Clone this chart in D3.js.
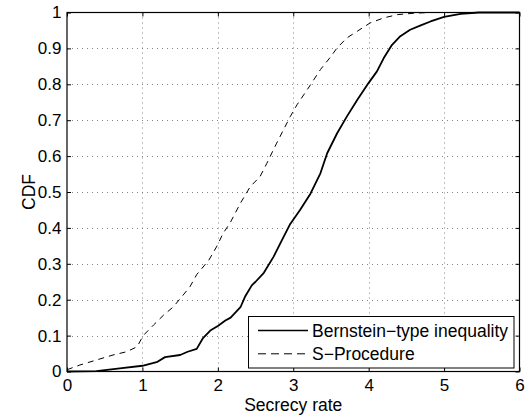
<!DOCTYPE html>
<html><head><meta charset="utf-8">
<script src="https://cdn.jsdelivr.net/npm/d3@7"></script>
<style>body{margin:0;background:#fff}svg{display:block}text{font-family:"Liberation Sans",Arial,sans-serif;fill:#000}</style>
</head><body><svg id="c" width="527" height="415"></svg>
<script>
const xTicks = [0,1,2,3,4,5,6];
const yTicks = [0,0.1,0.2,0.3,0.4,0.5,0.6,0.7,0.8,0.9,1];
const seriesNames = ["Bernstein\u2212type inequality","S\u2212Procedure"];
const bernsteinX = [0,0.39,0.7,1.0,1.2,1.3,1.5,1.6,1.72,1.8,1.9,2.0,2.1,2.17,2.3,2.36,2.45,2.5,2.61,2.74,2.85,2.96,3.09,3.23,3.36,3.45,3.58,3.71,3.85,4.0,4.11,4.2,4.31,4.42,4.55,4.69,4.82,5.0,5.22,5.46,6.0];
const bernsteinY = [0,0.001,0.009,0.016,0.027,0.04,0.046,0.055,0.063,0.092,0.114,0.127,0.142,0.15,0.179,0.208,0.24,0.25,0.275,0.32,0.366,0.411,0.45,0.496,0.552,0.608,0.663,0.71,0.757,0.804,0.836,0.873,0.91,0.934,0.952,0.964,0.975,0.988,0.996,1.0,1.0];
const sprocX = [0,0.17,0.39,0.61,0.79,0.93,1.01,1.15,1.28,1.41,1.54,1.63,1.72,1.88,1.99,2.07,2.16,2.3,2.43,2.56,2.65,2.78,2.87,2.96,3.05,3.23,3.36,3.49,3.58,3.71,3.85,4.02,4.2,4.38,4.6,4.8,6.0];
const sprocY = [0.005,0.018,0.032,0.046,0.055,0.069,0.1,0.13,0.157,0.18,0.213,0.236,0.27,0.31,0.35,0.385,0.413,0.469,0.515,0.543,0.58,0.636,0.673,0.71,0.743,0.799,0.841,0.875,0.901,0.929,0.948,0.971,0.985,0.994,0.998,1.0,1.0];

const svg = d3.select("#c");
const L=67, R=519.5, T=12.5, B=371.5;
const x = d3.scaleLinear().domain([0,6]).range([L,R]);
const y = d3.scaleLinear().domain([0,1]).range([B,T]);

// grid
const g = svg.append("g");
g.selectAll(".gx").data(xTicks.slice(1,-1)).enter().append("line")
 .attr("x1",d=>Math.round(x(d))+0.5).attr("x2",d=>Math.round(x(d))+0.5).attr("y1",T).attr("y2",B)
 .attr("stroke","#666").attr("stroke-width",0.8).attr("stroke-dasharray","1,4");
g.selectAll(".gy").data(yTicks.slice(1,-1)).enter().append("line")
 .attr("y1",d=>Math.round(y(d))+0.5).attr("y2",d=>Math.round(y(d))+0.5).attr("x1",L).attr("x2",R)
 .attr("stroke","#666").attr("stroke-width",0.8).attr("stroke-dasharray","1,4");

// axes (MATLAB style: box with inward ticks)
const fmt = d=>d3.format("~g")(d);
svg.append("g").attr("transform",`translate(0,${B})`)
 .call(d3.axisBottom(x).tickValues(xTicks).tickSize(-4).tickPadding(7).tickFormat(fmt))
 .call(a=>{a.select(".domain").remove();a.selectAll("text").attr("font-size",17);});
svg.append("g").attr("transform",`translate(0,${T})`)
 .call(d3.axisTop(x).tickValues(xTicks).tickSize(-4).tickFormat(""))
 .call(a=>a.select(".domain").remove());
svg.append("g").attr("transform",`translate(${L},0)`)
 .call(d3.axisLeft(y).tickValues(yTicks).tickSize(-4).tickPadding(5.5).tickFormat(fmt))
 .call(a=>{a.select(".domain").remove();a.selectAll("text").attr("font-size",17);});
svg.append("g").attr("transform",`translate(${R},0)`)
 .call(d3.axisRight(y).tickValues(yTicks).tickSize(-4).tickFormat(""))
 .call(a=>a.select(".domain").remove());

// curves
const line = d3.line().x(d=>x(d[0])).y(d=>y(d[1]));
svg.append("path").datum(sprocX.map((v,i)=>[v,sprocY[i]])).attr("d",line)
 .attr("fill","none").attr("stroke","#000").attr("stroke-width",1).attr("stroke-dasharray","6,5");
svg.append("path").datum(bernsteinX.map((v,i)=>[v,bernsteinY[i]])).attr("d",line)
 .attr("fill","none").attr("stroke","#000").attr("stroke-width",1.8).attr("stroke-linejoin","round");

// box
svg.append("rect").attr("x",L).attr("y",T).attr("width",R-L).attr("height",B-T)
 .attr("fill","none").attr("stroke","#000").attr("stroke-width",1.2);

// labels
svg.append("text").attr("x",(L+R)/2).attr("y",410.5).attr("text-anchor","middle").attr("font-size",17.5).text("Secrecy rate");
svg.append("text").attr("transform",`translate(34.5,${(T+B)/2}) rotate(-90)`).attr("text-anchor","middle").attr("font-size",17.5).text("CDF");

// legend
const lg = svg.append("g");
lg.append("rect").attr("x",248.5).attr("y",316.5).attr("width",265.5).attr("height",51.5)
 .attr("fill","#fff").attr("stroke","#000").attr("stroke-width",1);
const styles=[{w:1.5,d:null},{w:1,d:"8,5"}];
seriesNames.forEach((n,i)=>{
  const yy = 330.5 + i*23.3;
  lg.append("line").attr("x1",258).attr("x2",308).attr("y1",yy).attr("y2",yy)
   .attr("stroke","#000").attr("stroke-width",styles[i].w).attr("stroke-dasharray",styles[i].d);
  lg.append("text").attr("x",312).attr("y",yy+6).attr("font-size",17.5).text(n);
});
</script></body></html>
